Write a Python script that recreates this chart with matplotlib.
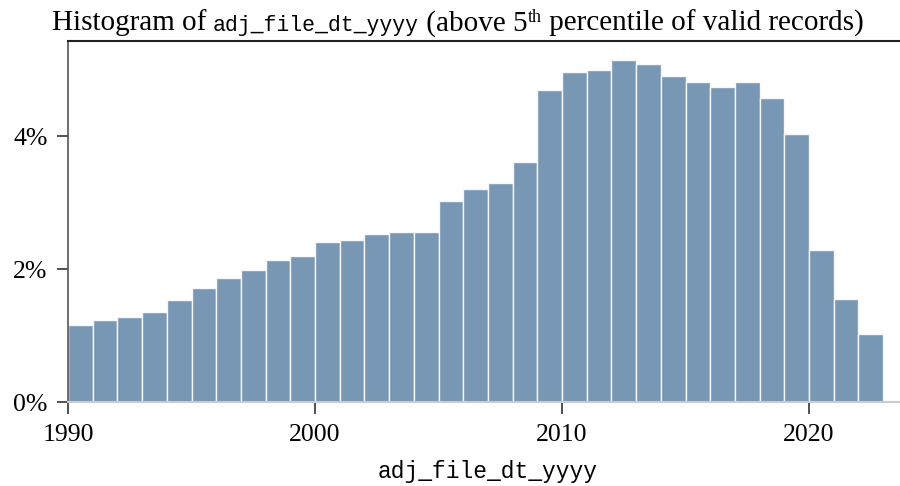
import matplotlib
matplotlib.use("Agg")
import matplotlib.pyplot as plt
from matplotlib.ticker import FuncFormatter

# share of records per year (percent)
years = list(range(1990, 2023))
pct = [1.16, 1.24, 1.28, 1.35, 1.53, 1.71, 1.86, 1.98, 2.14, 2.20,
       2.40, 2.43, 2.52, 2.55, 2.56, 3.03, 3.21, 3.30, 3.61, 4.69,
       4.97, 4.99, 5.15, 5.09, 4.90, 4.81, 4.74, 4.81, 4.58, 4.03,
       2.28, 1.55, 1.02]
xticks = [1990, 2000, 2010, 2020]
yticks = [0, 2, 4]

serif = 'Liberation Serif'
mono = 'Liberation Mono'
plt.rcParams['font.family'] = serif

W, H = 900, 486
fig = plt.figure(figsize=(W/100, H/100), dpi=100)
ax = fig.add_axes([68/W, 1-402/H, 1-68/W, (402-41)/H])

ax.bar(years, pct, width=1, align='edge', color='#7897b4',
       edgecolor='#f4f6f8', linewidth=1.0)

ax.set_xlim(1990, 2023.68)
ax.set_ylim(0, 5.43)
ax.set_xticks(xticks)
ax.set_yticks(yticks)
ax.yaxis.set_major_formatter(FuncFormatter(lambda v, p: '%d%%' % v))
ax.tick_params(axis='both', labelsize=18.5, colors='#333333', labelcolor='black',
               width=1.2, pad=7)
ax.tick_params(axis='x', length=8.6)
ax.tick_params(axis='y', length=7.7)

ax.spines['right'].set_visible(False)
ax.spines['left'].set_color('#555555')
ax.spines['left'].set_linewidth(1.2)
ax.spines['top'].set_color('#222222')
ax.spines['top'].set_linewidth(1.5)
ax.spines['bottom'].set_color('#cccccc')
ax.spines['bottom'].set_linewidth(1.5)

fig.text(488/W, 1-478/H, 'adj_file_dt_yyyy', family=mono, fontsize=16.5,
         ha='center', va='baseline')

# title built from pieces: serif / mono / serif with superscript
base_y = 1-30.5/H
pieces = [
    ('Histogram of ', serif, 21, 0),
    ('adj_file_dt_yyyy', mono, 15.5, 0),
    (' (above 5', serif, 21, 0),
    ('th', serif, 13, 9),
    (' percentile of valid records)', serif, 21, 0),
]
texts = []
for s, fam, size, rise in pieces:
    t = fig.text(0, base_y + rise/H, s, family=fam, fontsize=size,
                 ha='left', va='baseline')
    texts.append(t)
fig.canvas.draw()
r = fig.canvas.get_renderer()
widths = [t.get_window_extent(r).width for t in texts]
total = sum(widths)
x = 457.5 - total/2
for t, w in zip(texts, widths):
    t.set_x(x/W)
    x += w

fig.savefig('out.png', dpi=100)
